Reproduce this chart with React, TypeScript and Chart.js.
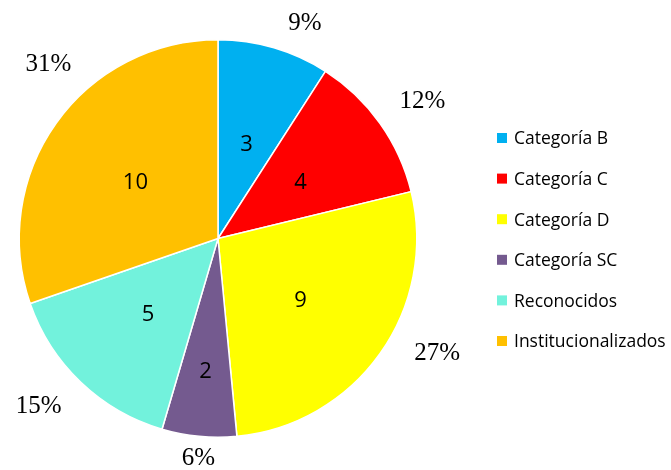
import React, { useEffect, useRef } from "react";
import { Chart, registerables } from "chart.js";

Chart.register(...registerables);

const categories = ["Categoría B", "Categoría C", "Categoría D", "Categoría SC", "Reconocidos", "Institucionalizados"];
const values = [3, 4, 9, 2, 5, 10];
const percentLabels = ["9%", "12%", "27%", "6%", "15%", "31%"];
const colors = ["#00B0F0", "#FF0000", "#FFFF00", "#745A8F", "#72F2DC", "#FFC000"];
// small angular nudges (degrees) of the outside percentage labels, as placed in the original
const percentLabelShift = [5.5, 1.5, -8, -0.5, 3.5, 10.5];

const labelPlugin = {
  id: "sliceLabels",
  afterDatasetsDraw(chart: any) {
    const ctx = chart.ctx;
    const meta = chart.getDatasetMeta(0);
    ctx.save();
    meta.data.forEach((arc: any, i: number) => {
      const { x, y, startAngle, endAngle, outerRadius } = arc.getProps(
        ["x", "y", "startAngle", "endAngle", "outerRadius"],
        true
      );
      const mid = (startAngle + endAngle) / 2;
      const span = endAngle - startAngle;
      const cos = Math.cos(mid);
      const sin = Math.sin(mid);
      // inside value
      const rIn = span < 0.45 ? outerRadius * 0.66 : outerRadius * 0.51;
      ctx.font = '22px "Open Sans"';
      ctx.fillStyle = "#000";
      ctx.textAlign = "center";
      ctx.textBaseline = "middle";
      ctx.fillText(String(chart.data.datasets[0].data[i]), x + cos * rIn, y + sin * rIn + 3);
      // outside percent
      const a = mid + (percentLabelShift[i] * Math.PI) / 180;
      const c2 = Math.cos(a);
      const s2 = Math.sin(a);
      ctx.font = '25px "Liberation Serif"';
      const txt = percentLabels[i];
      const w = ctx.measureText(txt).width;
      const h = 18;
      const ext = (Math.abs(c2) * w) / 2 + (Math.abs(s2) * h) / 2;
      const rOut = outerRadius + 14 + ext * 1.4;
      const ly = Math.min(y + s2 * rOut + 1, chart.height - 12);
      ctx.fillText(txt, x + c2 * rOut, ly);
    });
    ctx.restore();
  },
};

const legendPlugin = {
  id: "customLegend",
  afterDraw(chart: any) {
    const ctx = chart.ctx;
    const labels = chart.data.labels as string[];
    const bg = chart.data.datasets[0].backgroundColor as string[];
    const x0 = 497;
    const y0 = 138;
    const gap = 40.6;
    ctx.save();
    ctx.font = '17.5px "Open Sans"';
    ctx.textBaseline = "middle";
    ctx.textAlign = "left";
    labels.forEach((lab, i) => {
      const yy = y0 + i * gap;
      ctx.fillStyle = bg[i];
      ctx.fillRect(x0, yy - 5, 10, 10);
      ctx.fillStyle = "#000";
      ctx.fillText(lab, x0 + 17, yy + 1.5);
    });
    ctx.restore();
  },
};

export default function App() {
  const ref = useRef<HTMLCanvasElement | null>(null);
  useEffect(() => {
    document.body.style.margin = "0";
    if (!ref.current) return;
    const chart = new Chart(ref.current, {
      type: "pie",
      data: {
        labels: categories,
        datasets: [
          {
            data: values,
            backgroundColor: colors,
            borderColor: "#FFFFFF",
            borderWidth: 1.5,
          },
        ],
      },
      options: {
        animation: false,
        responsive: false,
        events: [],
        layout: { padding: { left: 18, right: 253, top: 39, bottom: 32 } },
        plugins: { legend: { display: false }, tooltip: { enabled: false } },
      },
      plugins: [labelPlugin, legendPlugin],
    });
    return () => chart.destroy();
  }, []);
  return (
    <div style={{ width: 671, height: 470, background: "#fff" }}>
      <canvas ref={ref} width={671} height={470} style={{ display: "block" }} />
    </div>
  );
}
